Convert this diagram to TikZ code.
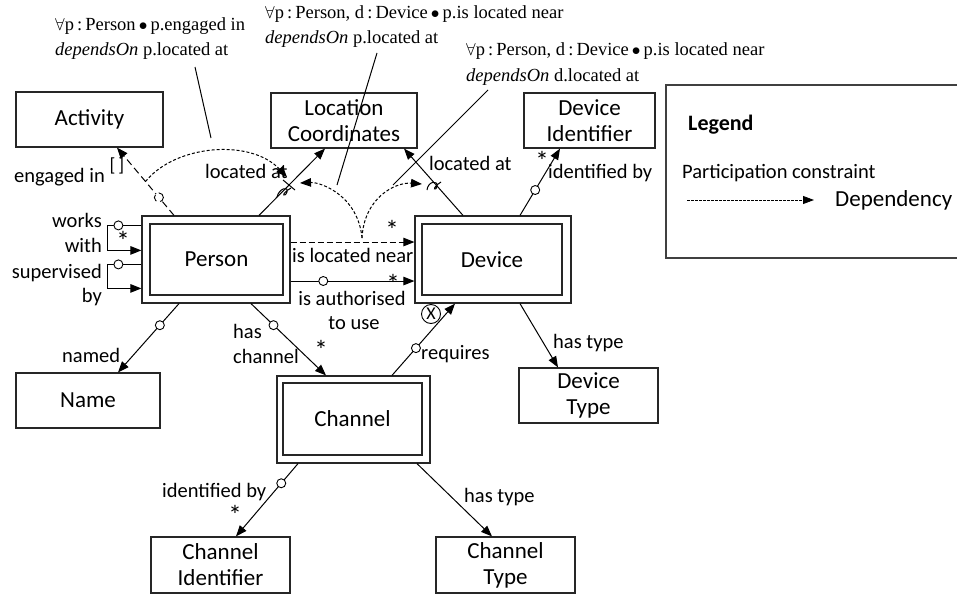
\documentclass[tikz,border=0pt]{standalone}
\usepackage{fontspec}
\setmainfont{Carlito}
\newfontfamily\annfont{Liberation Serif}
\usetikzlibrary{arrows.meta,calc}
\newcommand\boxsize{\fontsize{23}{26}\selectfont}
\newcommand\lblsize{\fontsize{20.5}{25}\selectfont}
\newcommand\annsize{\annfont\fontsize{18.5}{25}\selectfont}
\newcommand\fa{$\forall$}
\newcommand\bul{\,$\bullet$\,}

\begin{document}
\begin{tikzpicture}[x=1pt,y=-1pt,
  entity/.style={draw=black!85, line width=1.2pt, inner sep=0pt, align=center, font=\boxsize},
  lbl/.style={font=\lblsize, inner sep=0pt},
  ann/.style={font=\annsize, inner sep=0pt, anchor=base west},
  link/.style={line width=1pt, -{Triangle[length=11pt,width=8.5pt]}},
  dep/.style={link, dash pattern=on 3pt off 2pt},
  pc/.style={circle, draw, fill=white, line width=0.9pt, inner sep=0pt, minimum size=9pt},
  star/.style={font=\fontsize{27}{27}\selectfont, inner sep=0pt, text height=11pt, text depth=-5pt},
  stroke/.style={line width=1pt},
]
\useasboundingbox (0,0) rectangle (957,597);

% ---------- entity types ----------
\node[entity, minimum width=147pt, minimum height=55pt] (activity) at (89.5,119.5) {Activity};
\node[entity, minimum width=146pt, minimum height=55pt] (loc) at (344,120.5) {Location\\Coordinates};
\node[entity, minimum width=131pt, minimum height=55pt] (devid) at (589.5,120.5) {Device\\Identifier};
\node[entity, minimum width=144pt, minimum height=55pt] (name) at (88,400.5) {Name};
\node[entity, minimum width=139pt, minimum height=55pt] (devtype) at (588.5,395.5) {Device\\Type};
\node[entity, minimum width=139pt, minimum height=56pt] (chanid) at (220.5,565) {Channel\\Identifier};
\node[entity, minimum width=139pt, minimum height=56pt] (chantype) at (505.5,565) {Channel\\Type};

% double-framed entity types
\node[entity, minimum width=148pt, minimum height=87pt] (person) at (216,259.5) {};
\node[entity, minimum width=133pt, minimum height=71pt] (personin) at (216.5,259.5) {Person};
\node[entity, minimum width=156pt, minimum height=87pt] (device) at (493,259.5) {};
\node[entity, minimum width=140pt, minimum height=71pt] (devicein) at (492,259.5) {Device};
\node[entity, minimum width=153pt, minimum height=87pt] (channel) at (353.5,419.5) {};
\node[entity, minimum width=139pt, minimum height=72pt] (channelin) at (352.5,419) {Channel};

% ---------- fact types ----------
% engaged in
\draw[link, dash pattern=on 7pt off 4pt] ([xshift=-42pt]person.north)
  -- coordinate[pos=0.5] (engmid) node[pc, pos=0.265] (engc) {} ([xshift=27.5pt]activity.south);
\node[lbl, anchor=base west] (lengaged) at (14,182) {engaged in};
\node[inner sep=0pt, font=\fontsize{19}{19}\selectfont] (brk) at (117,166) {[\hspace{3pt}]};

% located at (person)
\draw[link] ([xshift=43pt]person.north) -- ([xshift=-19pt]loc.south);
\node[lbl, anchor=base west] (llocp) at (205,178) {located at};
% located at (device)
\draw[link] ([xshift=-30pt]device.north) -- ([xshift=60pt]loc.south);
\node[lbl, anchor=base west] (llocd) at (429,170) {located at};

% identified by (device)
\draw[link] ([xshift=27pt]device.north) -- node[pc, pos=0.38] (didc) {} ([xshift=-29.5pt]devid.south);
\node[star] (didstar) at (542,165) {*};
\node[lbl, anchor=base west] (ldid) at (548,178) {identified by};

% works with / supervised by
\draw[link] ($(person.north west)+(0,10)$) -- ++(-34,0) |- ($(person.north west)+(0,35)$);
\node[pc] (wwc) at ($(person.north west)+(-23,10)$) {};
\node[star] (wwstar) at (123,245) {*};
\draw[link] ($(person.north west)+(0,49)$) -- ++(-34,0) |- ($(person.north west)+(0,73)$);
\node[pc] (sbc) at ($(person.north west)+(-23,49)$) {};
\node[lbl, anchor=base east] (lworks) at (102,227) {works};
\node[lbl, anchor=base east] (lwith) at (102,252) {with};
\node[lbl, anchor=base east] (lsup) at (102,278) {supervised};
\node[lbl, anchor=base east] (lby) at (102,302) {by};

% is located near
\draw[link, dash pattern=on 6pt off 3pt] ($(person.east)+(0,-17.5)$) -- ($(device.west)+(0,-17.5)$);
\node[star] (lnstar) at (392,234) {*};
\node[lbl, anchor=base west] (lnear) at (292,262) {is located near};

% is authorised to use
\draw[link] ($(person.east)+(0,21.5)$) -- node[pc, pos=0.264] (auc) {} ($(device.west)+(0,21.5)$);
\node[star] (austar) at (393,288) {*};
\node[lbl, anchor=base] (lauth) at (352,305) {is authorised};
\node[lbl, anchor=base] (luse) at (354,329) {to use};

% named
\draw[link] ([xshift=-37pt]person.south) -- node[pc, pos=0.314] (nmc) {} ([xshift=30pt]name.north);
\node[lbl, anchor=base west] (lnamed) at (62,362) {named};

% has channel
\draw[link] ([xshift=35pt]person.south) -- node[pc, pos=0.30] (hcc) {} ([xshift=-27.5pt]channel.north);
\node[lbl, anchor=base west] (lhas) at (233,338) {has};
\node[lbl, anchor=base west] (lchan) at (233,363) {channel};
\node[star] (hcstar) at (321,354) {*};

% requires
\draw[link] ([xshift=38.5pt]channel.north) -- node[pc, pos=0.38] (rqc) {} ([xshift=-38pt]device.south);
\node[circle, draw, line width=0.9pt, inner sep=0pt, minimum size=19pt,
      font=\fontsize{18}{18}\selectfont] (excl) at (431,314) {X};
\node[lbl, anchor=base west] (lreq) at (421,359) {requires};

% has type (device)
\draw[link] ([xshift=27pt]device.south) -- ([xshift=-30.5pt]devtype.north);
\node[lbl, anchor=base west] (ldtype) at (553,348) {has type};

% identified by (channel)
\draw[link] ([xshift=-55.5pt]channel.south) -- node[pc, pos=0.27] (cidc) {} ([xshift=15.5pt]chanid.north);
\node[star] (cidstar) at (235,519) {*};
\node[lbl, anchor=base west] (lcid) at (162,497) {identified by};

% has type (channel)
\draw[link] ([xshift=63.5pt]channel.south) -- ([xshift=-13.5pt]chantype.north);
\node[lbl, anchor=base west] (lctype) at (464,502) {has type};

% ---------- dependencies ----------
\coordinate (tipA) at (287,177);
\coordinate (fork) at (362,238);
\coordinate (tipB) at (300,183);
\coordinate (tipC) at (422,184);
\draw[dep] (engmid) .. controls (175,145) and (250,138) .. (tipA);
\draw[dep] (fork) .. controls (358,195) and (320,182) .. (tipB);
\draw[dep] (fork) .. controls (364,198) and (395,182) .. (tipC);

% marks on the located-at roles
\draw[stroke] (283,180) -- (295,190);
\draw[stroke] (277,197) .. controls (279,188) and (289,186) .. (287,192)
  .. controls (285,198) and (279,195) .. (291,188);
\draw[stroke] (427,190) .. controls (428,181) and (438,180) .. (437,186)
  .. controls (436,192) and (430,189) .. (441,182);

% ---------- constraint annotations ----------
\node[ann] (ann1a) at (55,30) {\fa p\,:\,Person\bul p.engaged in};
\node[ann] (ann1b) at (55,55) {\textit{dependsOn} p.located at};
\node[ann] (ann2a) at (265,18) {\fa p\,:\,Person, d\,:\,Device\bul p.is located near};
\node[ann] (ann2b) at (265,43) {\textit{dependsOn} p.located at};
\node[ann] (ann3a) at (466,55) {\fa p\,:\,Person, d\,:\,Device\bul p.is located near};
\node[ann] (ann3b) at (466,81) {\textit{dependsOn} d.located at};
\coordinate (p1a) at (195,67);  \coordinate (p1b) at (211,138);
\coordinate (p2a) at (377,53);  \coordinate (p2b) at (337,185);
\coordinate (p3a) at (488,90);  \coordinate (p3b) at (393,185);
\draw[stroke] (p1a) -- (p1b);
\draw[stroke] (p2a) -- (p2b);
\draw[stroke] (p3a) -- (p3b);

% ---------- legend ----------
\draw[line width=1.2pt, draw=black!75] (957,85) -- (666,85) -- (666,258) -- (957,258);
\node[inner sep=0pt, anchor=base west, font=\fontsize{22}{22}\selectfont\bfseries] (legtitle) at (688,130) {Legend};
\node[lbl, anchor=base west] (legpc) at (682,178) {Participation constraint};
\coordinate (legA) at (687,200);
\coordinate (legB) at (814,200);
\draw[line width=0.8pt, dash pattern=on 2.5pt off 1.5pt, -{Triangle[length=11pt,width=8pt]}] (legA) -- (legB);
\node[inner sep=0pt, anchor=base west, font=\boxsize] (legdep) at (835,206) {Dependency};
\end{tikzpicture}
\end{document}
